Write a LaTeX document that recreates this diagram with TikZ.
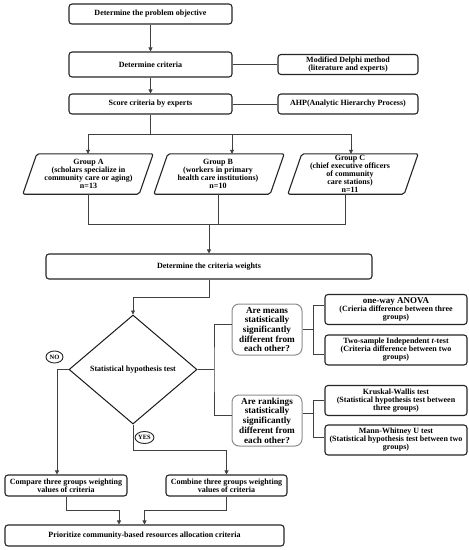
\documentclass[tikz,border=0pt]{standalone}
\usepackage{fontspec}
\setmainfont{Liberation Serif}
\usetikzlibrary{arrows.meta,shapes.geometric}
\newcommand{\fsz}[2]{\fontsize{#1}{#2}\selectfont\bfseries}
\begin{document}
\begin{tikzpicture}[x=1pt,y=-1pt,
  box/.style={draw=black!85, line width=1.1pt, rounded corners=3pt, inner sep=0pt, align=center, font=\fsz{8}{8}},
  qbox/.style={draw=black!45, line width=1pt, rounded corners=7pt, inner sep=0pt, align=center, minimum width=70, minimum height=51, font=\fsz{9.2}{9.7}},
  tbox/.style={box, minimum width=142, minimum height=30},
  pshape/.style={draw=none, inner sep=0pt, minimum width=130, minimum height=40},
  ptext/.style={inner sep=0pt, align=center, font=\fsz{8}{8}},
  pline/.style={draw=black!85, line width=1.1pt, rounded corners=2pt},
  conn/.style={draw=black!75, line width=0.7pt},
  arr/.style={conn, -{Triangle[length=4pt,width=4pt]}},
  ell/.style={ellipse, draw=black!85, line width=0.9pt, inner sep=0pt, font=\fsz{6.5}{6.5}}
]
\fill[white] (0,0) rectangle (469,550);
\useasboundingbox (0,0) rectangle (469,550);

% top column
\node[box, minimum width=163, minimum height=20] (obj) at (150.5,14) {Determine the problem objective};
\node[box, minimum width=163, minimum height=25] (crit) at (150.5,64.5) {Determine criteria};
\node[box, minimum width=140, minimum height=20] (delphi) at (348,64.5) {Modified Delphi method\\(literature and experts)};
\node[box, minimum width=163, minimum height=20] (score) at (150.5,104) {Score criteria by experts};
\node[box, minimum width=140, minimum height=20] (ahp) at (348,104) {AHP(Analytic Hierarchy Process)};

\draw[arr] (obj) -- (crit);
\draw[arr] (crit) -- (score);
\draw[conn] (crit) -- (delphi);
\draw[conn] (score) -- (ahp);

% groups
\node[pshape] (gA) at (88,174) {};
\node[pshape] (gB) at (219,174) {};
\node[pshape] (gC) at (353,174) {};
\foreach \g in {gA,gB,gC}{
  \draw[pline] (\g.south west) -- ([xshift=-14pt]\g.south east) -- (\g.north east) -- ([xshift=14pt]\g.north west) -- cycle;
}
\node[ptext] (tA) at (88.5,174) {Group A\\(scholars specialize in\\community care or aging)\\n=13};
\node[ptext] (tB) at (218,174) {Group B\\(workers in primary\\health care institutions)\\n=10};
\node[ptext] (tC) at (350,173.5) {Group C\\(chief executive officers\\of community\\care stations)\\n=11};

\coordinate (b1) at (150.5,134);
\draw[conn] (score.south) -- (b1);
\draw[arr] (b1) -| (gA.north);
\draw[arr] (b1) -| ([xshift=13pt]gB.north);
\draw[arr] (b1) -| ([xshift=-2pt]gC.north);

\node[box, minimum width=326, minimum height=25] (weights) at (209,266.5) {Determine the criteria weights};
\coordinate (j) at (209,224);
\draw[conn] (gA.south) -- (gA.south |- j) -- ([xshift=-8pt]gC.south |- j) -- ([xshift=-8pt]gC.south);
\draw[conn] ([xshift=-1pt]gB.south) -- ([xshift=-1pt]gB.south |- j);
\draw[arr] (j) -- (weights.north);

% diamond
\node[diamond, draw=black!90, line width=1pt, minimum width=128, minimum height=109, aspect=1.17, inner sep=0pt, font=\fsz{8}{8}] (diam) at (133,369.5) {Statistical hypothesis test};
\draw[arr] (weights.south) -- ++(0,18) -| (diam.north);

% right side
\node[qbox] (means) at (267,329.5) {Are means\\statistically\\significantly\\different from\\each other?};
\node[qbox] (rank) at (267,420.5) {Are rankings\\statistically\\significantly\\different from\\each other?};
\coordinate (bus) at (214,369.5);
\draw[conn] (diam.east) -- (bus);
\draw[conn] ([yshift=5.5pt]means.west) -| (bus) |- ([yshift=5.5pt]rank.west);

\node[tbox] (anova) at (396,309.5) {{\fsz{9}{8}one-way ANOVA}\\(Crieria difference between three\\groups)};
\node[tbox] (ttest) at (396,350) {Two-sample Independent \textit{t}-test\\(Criteria difference between two\\groups)};
\node[tbox] (kw) at (396,400.5) {Kruskal-Wallis test\\(Statistical hypothesis test between\\three groups)};
\node[tbox] (mw) at (396,440) {Mann-Whitney U test\\(Statistical hypothesis test between two\\groups)};

\draw[conn] (means.east) -- ++(11,0);
\draw[conn] ([yshift=4pt]anova.west) -| ([xshift=11pt]means.east) |- ([yshift=-4pt]ttest.west);
\draw[conn] ([yshift=7pt]rank.east) -- ++(11,0);
\draw[conn] (kw.west) -| ([xshift=11pt,yshift=7pt]rank.east) |- ([yshift=3pt]mw.west);

% bottom
\node[box, minimum width=122, minimum height=21] (cmp) at (66,485.5) {Compare three groups weighting\\values of criteria};
\node[box, minimum width=121, minimum height=21] (comb) at (226.5,485.5) {Combine three groups weighting\\values of criteria};
\node[box, minimum width=279, minimum height=21] (final) at (144.5,535.5) {Prioritize community-based resources allocation criteria};

\draw[arr] (diam.west) -| ([xshift=-9pt]cmp.north);
\draw[arr] (diam.south) -- ++(0,26) -| (comb.north);
\node[ell, minimum width=17, minimum height=12] (no) at (54.5,357) {NO};
\node[ell, minimum width=19, minimum height=12] (yes) at (144.5,437.5) {YES};

\draw[arr] (cmp.south) -- ++(0,14) -| ([xshift=-25.5pt]final.north);
\draw[arr] (comb.south) -- ++(0,14) -| (final.north);
\end{tikzpicture}
\end{document}
